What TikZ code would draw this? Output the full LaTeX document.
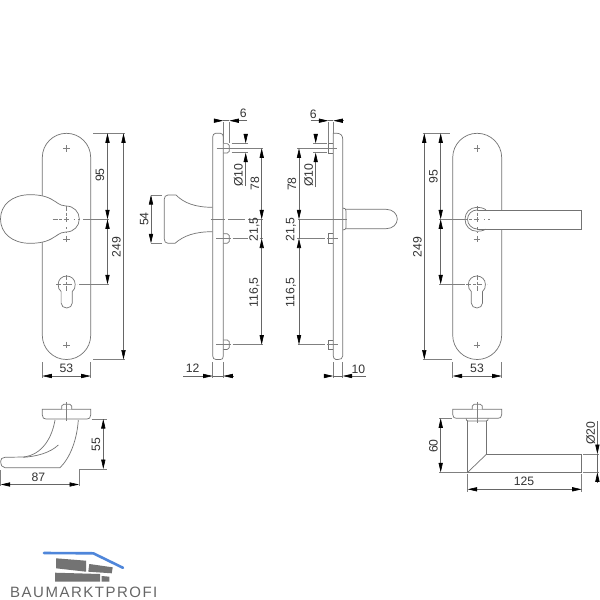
\documentclass[tikz,border=0pt]{standalone}
\usepackage{fontspec}
\setmainfont{Liberation Sans}
\usetikzlibrary{arrows.meta}
\definecolor{logoblue}{HTML}{4F86DA}
\tikzset{
  part/.style={line width=0.7pt, draw=black!55, fill=white},
  edge/.style={line width=0.7pt, draw=black!55},
  thinl/.style={line width=0.5pt, draw=black!50},
  centerl/.style={line width=0.5pt, draw=black!50, dash pattern=on 5pt off 1.5pt on 3pt off 1.5pt on 5pt},
  dimline/.style={line width=0.6pt, draw=black!60},
  tip/.style={-{Triangle[length=9.5pt,width=4.2pt,black]}},
  tips/.style={{Triangle[length=9.5pt,width=4.2pt,black]}-{Triangle[length=9.5pt,width=4.2pt,black]}},
  dimtext/.style={font=\fontsize{12.2}{12.2}\selectfont, text=black!80, inner sep=0pt},
  brick/.style={fill=black!55, draw=none}
}
\begin{document}
\begin{tikzpicture}[x=1pt,y=-1pt]
    \useasboundingbox (0, 0) rectangle (600, 600);
    \fill[white] (0, 0) rectangle (600, 600);

    % front plates
    \draw[part, rounded corners=24.2pt] (42.3, 133.3) rectangle (90.7, 359.5);
    \draw[part, rounded corners=24.4pt] (452.7, 133.3) rectangle (501.7, 359.5);

    % knob
    \draw[part] (0.5, 219) .. controls (0.5, 205) and (12, 194.7) .. (30, 194.7)
      .. controls (44, 194.7) and (50, 198) .. (56, 202)
      .. controls (60, 205) and (63, 206) .. (66, 206)
      .. controls (74, 206) and (79.3, 212) .. (79.3, 219)
      .. controls (79.3, 226) and (74, 232) .. (66, 232)
      .. controls (63, 232) and (60, 233) .. (56, 236)
      .. controls (50, 240) and (44, 243.3) .. (30, 243.3)
      .. controls (12, 243.3) and (0.5, 233) .. (0.5, 219) -- cycle;

    % lever, front
    \draw[part] (477, 210) -- (581.7, 210) -- (581.7, 229) -- (477, 229);
    \draw[edge] (486, 209.7) .. controls (482, 207.6) and (480, 207.3) .. (477, 207.3)
      .. controls (470, 207.3) and (465, 212.5) .. (465, 219.3)
      .. controls (465, 226) and (470, 231.3) .. (477, 231.3)
      .. controls (480, 231.3) and (482, 231) .. (486, 229.2);
    \draw[edge] (477, 210) .. controls (472, 210) and (467.5, 214) .. (467.5, 219.3)
      .. controls (467.5, 224.6) and (472, 228.8) .. (477, 229);

    % screws, cylinder hole, centre lines of both front views
    \foreach \cx in {66.7, 476.9} {
      \begin{scope}[xshift=\cx pt]
        \foreach \sy in {148.3, 238.8, 345} {
          \draw[thinl] (-3.3, \sy) -- (3.3, \sy);
          \draw[thinl] (0, \sy-3.3) -- (0, \sy+3.3);
        }
        \draw[edge] (-5.6, 291.5) -- (-5.6, 303)
          .. controls (-5.6, 306) and (-3, 308) .. (0, 308)
          .. controls (3, 308) and (5.6, 306) .. (5.6, 303) -- (5.6, 291.5)
          .. controls (7.8, 290) and (8.5, 287.5) .. (8.5, 284.3)
          .. controls (8.5, 279.5) and (4.7, 276) .. (0, 276)
          .. controls (-4.7, 276) and (-8.5, 279.5) .. (-8.5, 284.3)
          .. controls (-8.5, 287.5) and (-7.8, 290) .. (-5.6, 291.5);
        \draw[centerl] (-10.5, 284.3) -- (10.5, 284.3);
        \draw[centerl] (0, 275) -- (0, 293);
        \draw[centerl] (-14, 219.3) -- (14, 219.3);
        \draw[centerl] (0, 206) -- (0, 232.5);
      \end{scope}
    }

    % dimensions, left front view
    \draw[thinl] (93, 133.3) -- (125, 133.3);
    \draw[thinl] (93, 359.5) -- (125, 359.5);
    \draw[thinl] (83, 219.3) -- (109, 219.3);
    \draw[thinl] (79, 284.3) -- (109, 284.3);
    \draw[dimline, tips] (107.5, 133.3) -- (107.5, 219.3);
    \draw[dimline, tips] (107.5, 219.3) -- (107.5, 284.3);
    \draw[dimline, tips] (123.5, 133.3) -- (123.5, 359.5);
    \draw[thinl] (42.3, 362) -- (42.3, 378);
    \draw[thinl] (90.7, 362) -- (90.7, 378);
    \draw[dimline, tips] (42.3, 376) -- (90.7, 376);
    \node[dimtext, rotate=90] (lfA) at (100, 175) {95};
    \node[dimtext, rotate=90] (lfB) at (116.5, 247) {249};
    \node[dimtext] (lfC) at (66.5, 368.5) {53};

    % knob, side view
    \draw[part] (212.7, 207.3) .. controls (195, 207.3) and (184, 203) .. (176, 195)
      -- (168, 195) .. controls (165.5, 195) and (164.3, 197) .. (164.3, 199) -- (164.3, 239)
      .. controls (164.3, 241.5) and (165.5, 243.3) .. (168, 243.3) -- (175, 243.3)
      .. controls (184, 235.5) and (195, 231.7) .. (212.7, 231.7);
    \draw[part] (215.5, 133.3) -- (220.5, 133.3) .. controls (222.3, 133.3) and (223.3, 135) .. (223.3, 137)
      -- (223.3, 356) .. controls (223.3, 358.5) and (222.3, 359.5) .. (220.5, 359.5)
      -- (216, 359.5) .. controls (214, 359.5) and (212.7, 358) .. (212.7, 356)
      -- (212.7, 137) .. controls (212.7, 135) and (214, 133.3) .. (215.5, 133.3);
    \foreach \py in {148.3, 238.5, 344.7} {
      \draw[edge] (223.3, \py-4.7) -- (227.3, \py-4.7) -- (229.3, \py-3) -- (229.3, \py+3) -- (227.3, \py+4.7) -- (223.3, \py+4.7);
    }
    \draw[thinl] (216.7, 148.3) -- (262.5, 148.3);
    \draw[thinl] (231.7, 143.4) -- (247.5, 143.4);
    \draw[thinl] (231.7, 152.7) -- (247.5, 152.7);
    \draw[thinl] (210.7, 219.3) -- (225, 219.3);
    \draw[thinl] (228, 219.3) -- (245, 219.3);
    \draw[thinl] (248, 219.3) -- (262.5, 219.3);
    \draw[thinl] (216, 238.5) -- (231, 238.5);
    \draw[thinl] (232.5, 238.5) -- (248.3, 238.5);
    \draw[thinl] (259.5, 238.5) -- (263, 238.5);
    \draw[thinl] (216, 344.7) -- (231, 344.7);
    \draw[thinl] (232.7, 344.7) -- (263, 344.7);

    \draw[thinl] (151, 195) -- (162, 195);
    \draw[thinl] (151, 243.3) -- (162, 243.3);
    \draw[dimline, tips] (151, 195) -- (151, 243.3);
    \node[dimtext, rotate=90] (skA) at (144.3, 219) {54};

    \draw[thinl] (223.3, 122) -- (223.3, 143);
    \draw[thinl] (229.3, 122) -- (229.3, 143);
    \draw[dimline, tip] (214, 120.7) -- (223.3, 120.7);
    \draw[dimline, tip] (247, 120.7) -- (229.3, 120.7);
    \draw[dimline] (223.3, 120.7) -- (229.3, 120.7);
    \node[dimtext] (skB) at (243.3, 113.5) {6};

    \draw[dimline, tip] (245.7, 134) -- (245.7, 143.4);
    \draw[dimline, tip] (245.7, 186) -- (245.7, 152.7);
    \node[dimtext, rotate=90] (skC) at (238.3, 175) {Ø10};
    \draw[dimline, tips] (261.7, 148.3) -- (261.7, 219.3);
    \draw[dimline] (261.7, 219.3) -- (261.7, 238.5);
    \draw[dimline, tips] (261.7, 238.5) -- (261.7, 344.7);
    \node[dimtext, rotate=90] (skD) at (255, 183.5) {78};
    \node[dimtext, rotate=90] (skE) at (254.5, 229.3) {21,5};
    \node[dimtext, rotate=90] (skF) at (254.5, 292.5) {116,5};

    \draw[thinl] (212.7, 362) -- (212.7, 378);
    \draw[thinl] (223.3, 362) -- (223.3, 378);
    \draw[dimline, tip] (183.3, 376) -- (212.7, 376);
    \draw[dimline, tip] (232.7, 376) -- (223.3, 376);
    \draw[dimline] (212.7, 376) -- (223.3, 376);
    \node[dimtext] (skG) at (192.7, 368.7) {12};

    % lever, side view
    \draw[part] (346, 209.3) -- (386, 209.3) .. controls (393, 209.3) and (397.3, 214) .. (397.3, 219)
      .. controls (397.3, 224) and (393, 228.7) .. (386, 228.7) -- (346, 228.7);
    \draw[part] (342.7, 208) .. controls (345, 208) and (346, 209) .. (346, 211) -- (346, 227.5)
      .. controls (346, 229) and (345, 230) .. (342.7, 230);
    \draw[part] (333.3, 133.3) -- (337, 133.3) .. controls (340.5, 133.3) and (342.7, 135.5) .. (342.7, 139)
      -- (342.7, 356) .. controls (342.7, 358.5) and (340.5, 359.5) .. (338, 359.5)
      -- (336, 359.5) .. controls (334.5, 359.5) and (333.3, 358) .. (333.3, 356) -- cycle;
    \foreach \py in {148.3, 238.5, 344.7} {
      \draw[edge] (333.3, \py-4.7) -- (328.3, \py-4.7) -- (328.3, \py+4.7) -- (333.3, \py+4.7);
    }
    \draw[thinl] (297, 148.3) -- (337, 148.3);
    \draw[thinl] (313, 143.4) -- (326.7, 143.4);
    \draw[thinl] (313, 152.7) -- (326.7, 152.7);
    \draw[thinl] (298, 219.3) -- (347, 219.3);
    \draw[thinl] (297, 238.5) -- (325, 238.5);
    \draw[thinl] (327, 238.5) -- (338, 238.5);
    \draw[thinl] (297.7, 344.7) -- (325, 344.7);
    \draw[thinl] (327, 344.7) -- (338.3, 344.7);

    \draw[thinl] (328.3, 122) -- (328.3, 143);
    \draw[thinl] (333.3, 122) -- (333.3, 133);
    \draw[dimline, tip] (310.7, 120.7) -- (328.3, 120.7);
    \draw[dimline, tip] (342.7, 120.7) -- (333.3, 120.7);
    \draw[dimline] (328.3, 120.7) -- (333.3, 120.7);
    \node[dimtext] (svA) at (313.3, 114) {6};

    \draw[dimline, tip] (315.7, 134) -- (315.7, 143.4);
    \draw[dimline, tip] (315.7, 187) -- (315.7, 152.7);
    \node[dimtext, rotate=90] (svB) at (308.7, 175) {Ø10};
    \draw[dimline, tips] (299, 148.3) -- (299, 219.3);
    \draw[dimline] (299, 219.3) -- (299, 238.5);
    \draw[dimline, tips] (299, 238.5) -- (299, 344.7);
    \node[dimtext, rotate=90] (svC) at (292, 184) {78};
    \node[dimtext, rotate=90] (svD) at (291, 229.3) {21,5};
    \node[dimtext, rotate=90] (svE) at (291, 292.5) {116,5};

    \draw[thinl] (333.3, 362) -- (333.3, 378);
    \draw[thinl] (342.7, 362) -- (342.7, 378);
    \draw[dimline, tip] (325, 376) -- (333.3, 376);
    \draw[dimline, tip] (366, 376) -- (342.7, 376);
    \draw[dimline] (333.3, 376) -- (342.7, 376);
    \node[dimtext] (svF) at (358.3, 369) {10};

    % dimensions, right front view
    \draw[thinl] (422.7, 133.3) -- (450, 133.3);
    \draw[thinl] (422.7, 359.5) -- (451.7, 359.5);
    \draw[thinl] (439, 219.3) -- (465, 219.3);
    \draw[thinl] (439, 284.3) -- (465, 284.3);
    \draw[dimline, tips] (424.3, 133.3) -- (424.3, 359.5);
    \draw[dimline, tips] (440.7, 133.3) -- (440.7, 219.3);
    \draw[dimline, tips] (440.7, 219.3) -- (440.7, 284.3);
    \draw[thinl] (452.7, 362) -- (452.7, 378);
    \draw[thinl] (501.7, 362) -- (501.7, 378);
    \draw[dimline, tips] (452.7, 376) -- (501.7, 376);
    \node[dimtext, rotate=90] (rfA) at (433.3, 176.5) {95};
    \node[dimtext, rotate=90] (rfB) at (417.3, 247.3) {249};
    \node[dimtext] (rfC) at (477, 368.7) {53};

    % knob, top view
    \draw[edge] (55, 420) .. controls (52, 438) and (42, 455) .. (23.3, 457)
      -- (5, 457.3) .. controls (2, 457.5) and (0.7, 459) .. (0.7, 461)
      .. controls (0.7, 465) and (2, 467.7) .. (5, 467.7) -- (60, 467.7)
      .. controls (70, 458) and (77, 440) .. (78.3, 420);
    \draw[edge] (23.3, 457.3) .. controls (36, 456.5) and (50, 453) .. (58.3, 445);
    \draw[part] (42.3, 409.3) -- (90.7, 409.3) -- (90.7, 415)
      .. controls (90.7, 418) and (89, 419) .. (87, 419) -- (46, 419)
      .. controls (44, 419) and (42.3, 418) .. (42.3, 415) -- cycle;
    \draw[part] (61.7, 409.3) -- (61.7, 406) .. controls (61.7, 405) and (62.5, 404.3) .. (63.5, 404.3)
      -- (70, 404.3) .. controls (71, 404.3) and (71.7, 405) .. (71.7, 406) -- (71.7, 409.3);
    \draw[thinl] (66.7, 402.3) -- (66.7, 421);

    \draw[thinl] (91.7, 419) -- (106.7, 419);
    \draw[thinl] (80, 469) -- (106.7, 469);
    \draw[thinl] (79, 469) -- (79, 486);
    \draw[thinl] (0.7, 470) -- (0.7, 486);
    \draw[dimline, tips] (103.3, 419) -- (103.3, 469);
    \draw[dimline, tips] (0.7, 484.5) -- (79, 484.5);
    \node[dimtext, rotate=90] (ktA) at (96, 444.3) {55};
    \node[dimtext] (ktB) at (38.3, 477.3) {87};

    % lever, top view
    \draw[edge] (467.7, 421) -- (467.7, 472.3) -- (581.7, 472.3) -- (581.7, 454) -- (486.7, 454) -- (486.7, 421);
    \draw[edge] (467.7, 472.3) -- (486.7, 454);
    \draw[edge] (466, 418.3) .. controls (466, 420) and (467, 421) .. (468, 421) -- (486, 421)
      .. controls (487.5, 421) and (488.3, 420) .. (488.3, 418.3);
    \draw[part] (452.7, 409.3) -- (501.7, 409.3) -- (501.7, 414.5)
      .. controls (501.7, 417.5) and (500, 418.3) .. (498, 418.3) -- (456.5, 418.3)
      .. controls (454.5, 418.3) and (452.7, 417.5) .. (452.7, 414.5) -- cycle;
    \draw[part] (472.3, 409.3) -- (472.3, 406) .. controls (472.3, 405) and (473, 404.3) .. (474, 404.3)
      -- (480.5, 404.3) .. controls (481.5, 404.3) and (482.3, 405) .. (482.3, 406) -- (482.3, 409.3);
    \draw[thinl] (477.3, 402) -- (477.3, 423);

    \draw[thinl] (439, 418.3) -- (451.5, 418.3);
    \draw[thinl] (439, 472.3) -- (466.7, 472.3);
    \draw[thinl] (467.7, 473.5) -- (467.7, 491.7);
    \draw[thinl] (581.7, 473.5) -- (581.7, 491.7);
    \draw[thinl] (583, 454) -- (598.5, 454);
    \draw[thinl] (583, 472.3) -- (598.5, 472.3);
    \draw[dimline, tips] (440.7, 418.3) -- (440.7, 472.3);
    \draw[dimline, tips] (467.7, 489.3) -- (581.7, 489.3);
    \draw[dimline, tip] (597.4, 421) -- (597.4, 454);
    \draw[dimline, tip] (597.4, 481.7) -- (597.4, 472.3);
    \draw[dimline] (597.4, 454) -- (597.4, 472.3);
    \node[dimtext, rotate=90] (ltA) at (433.3, 446) {60};
    \node[dimtext] (ltB) at (524, 481.7) {125};
    \node[dimtext, rotate=90] (ltC) at (590.7, 433) {Ø20};

    % logo
    \draw[line width=2.6pt, color=logoblue, line cap=round, line join=round] (44, 553) -- (93.3, 553.3) -- (123, 567.8);
    \fill[brick] (56, 558.3) -- (86, 560.7) -- (86, 571.7) -- (56, 568.3) -- cycle;
    \fill[brick] (89.3, 564) -- (112.7, 567.3) -- (111.7, 573.3) -- (88.3, 571.7) -- cycle;
    \fill[brick] (55, 572.7) -- (100, 574) -- (100, 581.7) -- (55, 581.7) -- cycle;
    \fill[brick] (101.7, 576) -- (109.3, 576.7) -- (109.3, 581.7) -- (101.7, 581.7) -- cycle;
    \node[inner sep=0pt, anchor=base west, text=black!60, font=\fontsize{15}{15}\selectfont\addfontfeature{LetterSpace=10}] (logoText) at (10, 597.7) {BAUMARKTPROFI};
  \end{tikzpicture}
\end{document}
